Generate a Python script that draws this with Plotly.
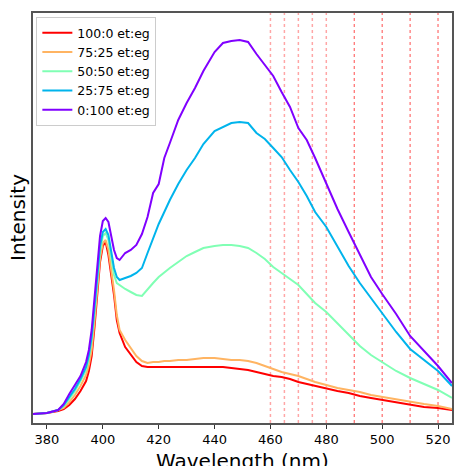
import plotly.graph_objects as go

wavelength = [375, 380, 384, 386, 388, 390, 392, 394, 395, 396, 397, 398, 399, 400, 401, 402, 403, 404, 405, 406,
              408, 410, 412, 414, 416, 418, 420, 422, 424, 427, 430, 433, 436, 440, 443, 446, 449, 452, 455, 458,
              461, 464, 467, 470, 473, 476, 480, 484, 488, 492, 496, 500, 505, 510, 515, 520, 525]

int_100_0 = [9, 10, 12, 14, 18, 24, 32, 42, 52, 67, 95, 128, 161, 177, 181, 168, 150, 128, 103, 90,
             76, 68, 61, 57, 56, 56, 56, 56, 56, 56, 56, 56, 56, 56, 56, 55, 54, 53, 51, 49,
             47, 46, 44, 41, 39, 37, 34, 32, 30, 27, 25, 23, 21, 18, 16, 15, 13]
int_75_25 = [9, 10, 13, 15, 21, 28, 37, 48, 58, 73, 101, 133, 165, 180, 183, 173, 155, 133, 108, 93,
             83, 75, 67, 62, 60, 61, 61, 62, 62, 63, 63, 64, 65, 65, 64, 63, 63, 62, 60, 57,
             54, 51, 49, 47, 44, 41, 38, 35, 33, 31, 28, 26, 24, 21, 19, 17, 14]
int_50_50 = [9, 10, 13, 17, 24, 32, 42, 53, 65, 83, 111, 142, 172, 187, 190, 183, 165, 148, 140, 138,
             134, 131, 128, 127, 134, 140, 146, 151, 155, 161, 167, 171, 175, 177, 178, 178, 177, 175, 170, 164,
             156, 150, 144, 138, 129, 120, 111, 100, 89, 77, 68, 61, 52, 45, 39, 33, 25]
int_25_75 = [9, 10, 13, 18, 26, 34, 44, 56, 68, 86, 115, 147, 177, 191, 194, 188, 173, 155, 146, 143,
             145, 147, 150, 155, 170, 185, 199, 211, 223, 239, 253, 265, 279, 292, 296, 300, 301, 300, 290, 284,
             275, 266, 253, 241, 227, 211, 196, 176, 157, 140, 125, 109, 91, 74, 63, 52, 37]
int_0_100 = [9, 10, 13, 19, 29, 38, 47, 61, 73, 93, 123, 158, 187, 202, 205, 201, 187, 173, 165, 163,
             170, 173, 178, 189, 206, 230, 239, 265, 280, 303, 320, 335, 352, 371, 380, 382, 383, 381, 369, 358,
             347, 331, 316, 295, 283, 265, 240, 214, 191, 169, 146, 129, 109, 87, 72, 57, 40]

series_names = ["100:0 et:eg", "75:25 et:eg", "50:50 et:eg", "25:75 et:eg", "0:100 et:eg"]
series_values = [int_100_0, int_75_25, int_50_50, int_25_75, int_0_100]
series_colors = ["#ff0000", "#ffb462", "#80ffb4", "#00b4ec", "#8000ff"]

marker_lines_light = [460, 465, 470, 475, 480]
marker_lines_dark = [490, 500, 510, 520]

x_ticks = [380, 400, 420, 440, 460, 480, 500, 520]

fig = go.Figure()
for name, vals, col in zip(series_names, series_values, series_colors):
    fig.add_trace(go.Scatter(x=wavelength, y=vals, mode="lines", name=name,
                             line=dict(color=col, width=2)))

shapes = []
for xv in marker_lines_light:
    shapes.append(dict(type="line", xref="x", yref="paper", x0=xv, x1=xv, y0=0, y1=1,
                       line=dict(color="rgba(255,0,0,0.35)", width=1.5, dash="dot"), layer="below"))
for xv in marker_lines_dark:
    shapes.append(dict(type="line", xref="x", yref="paper", x0=xv, x1=xv, y0=0, y1=1,
                       line=dict(color="rgba(255,0,0,0.7)", width=1, dash="dot"), layer="below"))

fig.update_layout(
    width=454, height=466,
    margin=dict(l=33, r=0, t=13, b=43),
    paper_bgcolor="white", plot_bgcolor="white",
    font=dict(family="DejaVu Sans", size=13, color="black"),
    showlegend=True,
    legend=dict(x=0.008, y=0.99, xanchor="left", yanchor="top",
                bgcolor="rgba(255,255,255,0.8)", bordercolor="#cccccc", borderwidth=1,
                font=dict(size=12.5, family="DejaVu Sans"), tracegroupgap=0, itemwidth=30),
    shapes=shapes,
    xaxis=dict(range=[375, 525], tickvals=x_ticks, ticks="outside", ticklen=4, tickcolor="#333",
               showgrid=False, zeroline=False, showline=True, linecolor="#555", linewidth=1.5, mirror=True,
               tickfont=dict(size=13)),
    yaxis=dict(range=[0, 410], showticklabels=False, ticks="", showgrid=False, zeroline=False,
               showline=True, linecolor="#555", linewidth=1.5, mirror=True),
    annotations=[
        dict(text="Wavelength (nm)", xref="paper", yref="paper", x=0.5, y=0, xanchor="center",
             yanchor="top", yshift=-24, showarrow=False, font=dict(size=20)),
        dict(text="Intensity", xref="paper", yref="paper", x=0, y=0.5, xanchor="center",
             yanchor="middle", xshift=-15, textangle=-90, showarrow=False, font=dict(size=20)),
    ],
)

fig.write_html("out.html", config={"displayModeBar": False},
               post_script="document.body.style.margin='0';document.body.style.overflow='hidden';")
